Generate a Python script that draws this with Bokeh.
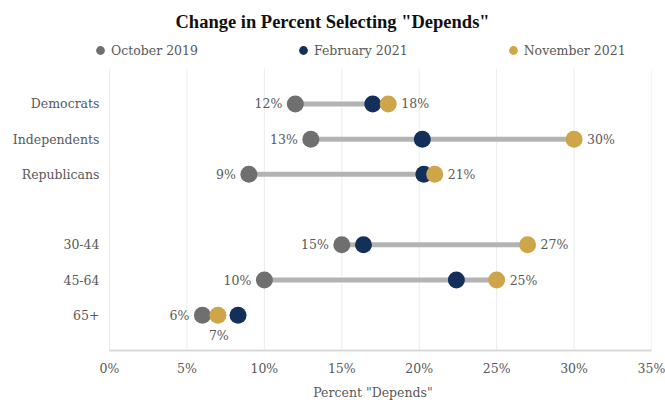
from bokeh.plotting import figure
from bokeh.models import (ColumnDataSource, Range1d, FixedTicker, Legend, LegendItem,
                          Title, LabelSet)
from bokeh.core.properties import value
from bokeh.embed import file_html
from bokeh.resources import INLINE

groups = ["Democrats", "Independents", "Republicans", "30-44", "45-64", "65+"]
row_pos = [1, 2, 3, 5, 6, 7]
oct_2019 = [12, 13, 9, 15, 10, 6]
feb_2021 = [17, 20.2, 20.3, 16.4, 22.4, 8.3]
nov_2021 = [18, 30, 21, 27, 25, 7]
x_ticks = [0, 5, 10, 15, 20, 25, 30, 35]

C_OCT = "#6f6f6f"
C_FEB = "#14305a"
C_NOV = "#cfa54a"
C_LINE = "#b3b3b3"
TXT = "#595959"
SERIF = "DejaVu Serif"

oct_lbl = [f"{v}%" for v in oct_2019]
nov_lbl = [f"{v}%" for v in nov_2021]
nov_dx = [13, 13, 13, 13, 13, -9]
nov_dy = [0, 0, 0, 0, 0, -20]

src = ColumnDataSource(dict(y=row_pos, o=oct_2019, f=feb_2021, n=nov_2021,
                            ol=oct_lbl, nl=nov_lbl, ndx=nov_dx, ndy=nov_dy))

Y_TOP, Y_BOT = 0, 8
p = figure(frame_width=557, frame_height=310, output_backend="svg", toolbar_location=None,
           x_range=Range1d(-0.97, 35), y_range=Range1d(Y_BOT, -0.8),
           min_border_left=94, min_border_right=14, min_border_bottom=52,
           min_border_top=40)
p.outline_line_color = None

# vertical grid lines only across the plotting rows
p.segment(x0=x_ticks, x1=x_ticks, y0=[Y_TOP] * len(x_ticks), y1=[Y_BOT] * len(x_ticks),
          line_color="#ececec", line_width=1)

p.segment(x0="o", x1="n", y0="y", y1="y", source=src, line_color=C_LINE, line_width=5)
r_oct = p.scatter(x="o", y="y", source=src, size=17, fill_color=C_OCT, line_color=None)
r_feb = p.scatter(x="f", y="y", source=src, size=17, fill_color=C_FEB, line_color=None)
r_nov = p.scatter(x="n", y="y", source=src, size=17, fill_color=C_NOV, line_color=None)

p.add_layout(LabelSet(x="o", y="y", text="ol", source=src, x_offset=-13, y_offset=0,
                      text_align="right", text_baseline="middle", text_font=value(SERIF),
                      text_font_size="12.5px", text_color=TXT))
p.add_layout(LabelSet(x="n", y="y", text="nl", source=src, x_offset="ndx", y_offset="ndy",
                      text_align="left", text_baseline="middle", text_font=value(SERIF),
                      text_font_size="12.5px", text_color=TXT))

p.xaxis.ticker = FixedTicker(ticks=x_ticks)
p.xaxis.bounds = (0, 35)
p.xaxis.major_label_overrides = {t: f"{t}%" for t in x_ticks}
p.xaxis.axis_line_color = "#d9d9d9"
p.xaxis.axis_line_width = 2
p.xaxis.major_tick_line_color = None
p.xaxis.minor_tick_line_color = None
p.xaxis.major_label_text_font = SERIF
p.xaxis.major_label_text_font_size = "12.5px"
p.xaxis.major_label_text_color = TXT
p.xaxis.major_label_standoff = 4
p.xaxis.axis_label = 'Percent "Depends"'
p.xaxis.axis_label_text_font = SERIF
p.xaxis.axis_label_text_font_style = "normal"
p.xaxis.axis_label_text_font_size = "12.5px"
p.xaxis.axis_label_text_color = TXT
p.xaxis.axis_label_standoff = 6

p.yaxis.ticker = FixedTicker(ticks=row_pos)
p.yaxis.major_label_overrides = {y: g for y, g in zip(row_pos, groups)}
p.yaxis.axis_line_color = None
p.yaxis.major_tick_line_color = None
p.yaxis.minor_tick_line_color = None
p.yaxis.major_label_text_font = SERIF
p.yaxis.major_label_text_font_size = "12.5px"
p.yaxis.major_label_text_color = TXT
p.yaxis.major_label_standoff = -11

p.xgrid.grid_line_color = None
p.ygrid.grid_line_color = None

legend = Legend(items=[LegendItem(label="October 2019", renderers=[r_oct]),
                       LegendItem(label="February 2021", renderers=[r_feb]),
                       LegendItem(label="November 2021", renderers=[r_nov])],
                orientation="horizontal", spacing=94, glyph_width=22, glyph_height=22,
                label_standoff=0, label_text_font=SERIF, label_text_font_size="12.5px",
                label_text_color=TXT, border_line_color=None, background_fill_alpha=0,
                padding=0, margin=0, location=(-5, 289), label_height=16)
p.add_layout(legend, "center")

p.title = Title(text='Change in Percent Selecting "Depends"', align="left", offset=81,
                standoff=18, text_font="Liberation Serif", text_font_size="18.5px",
                text_font_style="bold", text_color="#111111")

open("out.html", "w").write(file_html(p, INLINE))
